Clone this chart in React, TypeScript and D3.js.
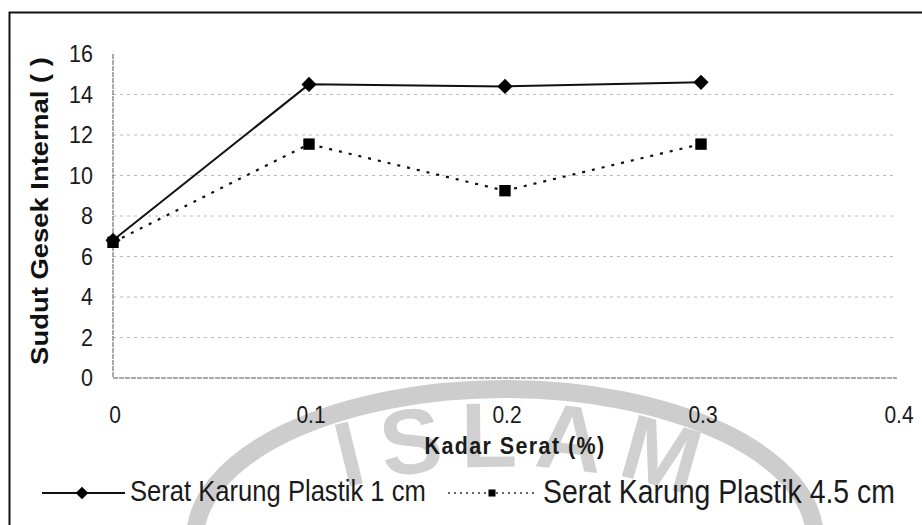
import React from "react";
import * as d3 from "d3";

const kadarSerat = [0, 0.1, 0.2, 0.3];
const series1cm = [6.8, 14.5, 14.4, 14.6];
const series45cm = [6.7, 11.55, 9.25, 11.55];
const xTicks = [0, 0.1, 0.2, 0.3, 0.4];
const yTicks = [0, 2, 4, 6, 8, 10, 12, 14, 16];
const seriesNames = ["Serat Karung Plastik 1 cm", "Serat Karung Plastik 4.5 cm"];

const W = 922;
const H = 525;
const FONT = "'Liberation Sans', Arial, sans-serif";
const SY = 1.14; // vertical stretch of the scanned text

function T(props: {
  x: number;
  y: number;
  size: number;
  anchor?: string;
  bold?: boolean;
  ls?: number;
  fill?: string;
  children: React.ReactNode;
}) {
  return (
    <text
      transform={`translate(${props.x},${props.y}) scale(1,${SY})`}
      textAnchor={props.anchor || "start"}
      fontSize={props.size}
      fontWeight={props.bold ? "bold" : "normal"}
      letterSpacing={props.ls || 0}
      fill={props.fill || "#1a1a1a"}
    >
      {props.children}
    </text>
  );
}

export default function App() {
  const x = d3.scaleLinear().domain([0, 0.4]).range([113, 897]);
  const y = d3.scaleLinear().domain([0, 16]).range([378, 54]);
  const line = d3
    .line<[number, number]>()
    .x((d) => x(d[0]))
    .y((d) => y(d[1]));
  const d1 = kadarSerat.map((k, i) => [k, series1cm[i]] as [number, number]);
  const d2 = kadarSerat.map((k, i) => [k, series45cm[i]] as [number, number]);
  const diamond = d3.symbol(d3.symbolSquare, 115)() as string;
  const square = d3.symbol(d3.symbolSquare, 130)() as string;
  const legDiamond = d3.symbol(d3.symbolSquare, 80)() as string;
  const legSquare = d3.symbol(d3.symbolSquare, 50)() as string;

  // watermark ellipse band
  const cx = 505, cy = 530;
  const outer = `M ${cx - 310},${cy} A 310,150 0 0 1 ${cx + 310},${cy}`;
  const textPathD = `M ${cx - 290},${cy + 65} A 260,115 0 0 1 ${cx + 290},${cy + 65}`;

  return (
    <svg
      width={W}
      height={H}
      style={{ position: "absolute", left: 0, top: 0, background: "#fff" }}
      fontFamily={FONT}
    >
      {/* watermark */}
      <g>
        <path d={outer} fill="none" stroke="#cdcdcd" strokeWidth={18} transform="translate(0,9)" />
        <path id="wmTextPath" d={textPathD} fill="none" />
        <text fontSize={92} fill="#d0d0d0" fontWeight="bold" letterSpacing={16}>
          <textPath href="#wmTextPath" startOffset="53%" textAnchor="middle">
            ISLAM
          </textPath>
        </text>
      </g>

      {/* outer border */}
      <rect x={9.5} y={12.5} width={W + 10} height={H + 10} fill="none" stroke="#111" strokeWidth={2} />

      {/* gridlines */}
      {yTicks.slice(1, -1).map((t) => (
        <line
          key={t}
          x1={x(0)}
          x2={x(0.4)}
          y1={y(t)}
          y2={y(t)}
          stroke="#a8a8a8"
          strokeWidth={0.8}
          strokeDasharray="3,4"
        />
      ))}
      {/* axes */}
      <line x1={x(0)} x2={x(0)} y1={y(16)} y2={y(0)} stroke="#555" strokeWidth={1} strokeDasharray="5,1" />
      <line x1={x(0)} x2={x(0.4)} y1={y(0)} y2={y(0)} stroke="#555" strokeWidth={1} strokeDasharray="5,1" />

      {/* y tick labels */}
      {yTicks.map((t) => (
        <T key={t} x={93} y={y(t) + 8} size={21.5} anchor="end">
          {t}
        </T>
      ))}
      {/* x tick labels */}
      {xTicks.map((t) => (
        <T key={t} x={x(t) + 2} y={423} size={21} anchor="middle">
          {t}
        </T>
      ))}

      {/* axis titles */}
      <text
        transform={`translate(48,${211}) rotate(-90) scale(1.12,1)`}
        textAnchor="middle"
        fontSize={24.5}
        fontWeight="bold"
        fill="#111"
      >
        Sudut Gesek Internal ( )
      </text>
      <T x={515} y={454} size={21.5} anchor="middle" bold ls={1.4}>
        Kadar Serat (%)
      </T>

      {/* series */}
      <path d={line(d2) as string} fill="none" stroke="#111" strokeWidth={2.2} strokeDasharray="3,7" />
      <path d={line(d1) as string} fill="none" stroke="#111" strokeWidth={2} />
      {d1.map((p, i) => (
        <path key={i} d={diamond} transform={`translate(${x(p[0])},${y(p[1])}) rotate(45)`} fill="#000" />
      ))}
      {d2.map((p, i) => (
        <path key={i} d={square} transform={`translate(${x(p[0])},${y(p[1])})`} fill="#000" />
      ))}

      {/* legend */}
      <line x1={42} x2={125} y1={493} y2={493} stroke="#111" strokeWidth={2} />
      <path d={legDiamond} transform="translate(82,493) rotate(45)" fill="#000" />
      <T x={130} y={501} size={25.6}>
        {seriesNames[0]}
      </T>
      <line x1={448} x2={537} y1={493} y2={493} stroke="#333" strokeWidth={1.6} strokeDasharray="2,4" />
      <path d={legSquare} transform="translate(492,493)" fill="#000" />
      <T x={543} y={503} size={28.4}>
        {seriesNames[1]}
      </T>
    </svg>
  );
}
